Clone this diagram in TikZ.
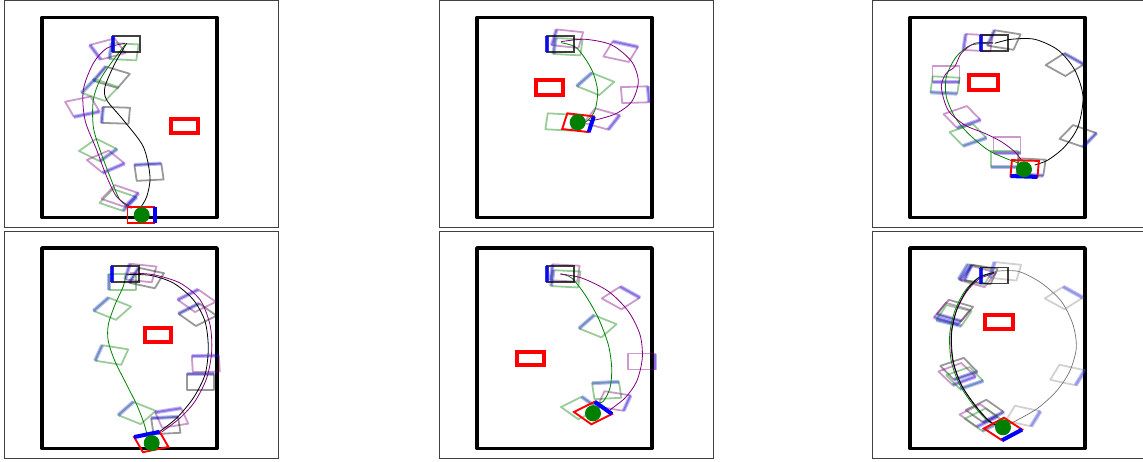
\documentclass[tikz,border=0pt]{standalone}
\usepackage{tikz}
\usetikzlibrary{calc}
\definecolor{trajgreen}{rgb}{0,0.5,0}
\definecolor{trajpurple}{rgb}{0.5,0,0.5}
\newcommand{\robotpose}[4]{%
  \begin{scope}[shift={(#2,#3)},xscale=13.5,yscale=8]
    \draw[#1,opacity=.4,line width=1.8pt,line join=round,rotate=-#4] (-1,-1) -- (1,-1) -- (1,1) -- (-1,1) -- cycle;
    \draw[blue,opacity=.28,line width=4pt,rotate=-#4] (1,-1) -- (1,1);
  \end{scope}}
\newcommand{\startpose}[3]{%
  \begin{scope}[shift={(#1,#2)},xscale=13.5,yscale=8]
    \draw[black,opacity=.75,line width=1.8pt,rotate=-#3] (-1,-1) -- (1,-1) -- (1,1) -- (-1,1) -- cycle;
    \draw[blue,opacity=.8,line width=4pt,rotate=-#3] (1,-1) -- (1,1);
  \end{scope}}
\newcommand{\goalpose}[3]{%
  \begin{scope}[shift={(#1,#2)},xscale=13.5,yscale=8]
    \draw[red,line width=1.9pt,rotate=-#3] (-1,-1) -- (1,-1) -- (1,1) -- (-1,1) -- cycle;
    \draw[blue,line width=4pt,rotate=-#3] (1,-1) -- (1,1);
  \end{scope}}

\begin{document}
\begin{tikzpicture}[x=1pt,y=-1pt,
    panelframe/.style={draw=black!75,line width=0.9pt},
    arena/.style={draw=black,line width=3.8pt,line join=round},
    obstacle/.style={draw=red,line width=3.8pt},
    greenpath/.style={trajgreen,line width=0.8pt},
    purplepath/.style={trajpurple,line width=0.8pt},
    blackpath/.style={black,line width=0.8pt},
    goaldot/.style={fill=trajgreen}]
\useasboundingbox (0,0) rectangle (1143,461);
\clip (0,0) rectangle (1143,461);

% top left
\begin{scope}[shift={(0,0)}]
    \draw[panelframe] (4,0.5) rectangle (278.5,227);
    \draw[arena] (42,17.5) rectangle (217,217.5);
    \draw[obstacle] (171.3,118.7) rectangle (198,133);
    \robotpose{trajpurple}{107.7}{49}{156}
    \robotpose{trajgreen}{124}{51.7}{185}
    \robotpose{black}{111.7}{77.3}{207}
    \robotpose{trajgreen}{100}{90}{210}
    \robotpose{trajpurple}{82.3}{106.7}{71}
    \robotpose{black}{115.8}{115.3}{183}
    \robotpose{trajgreen}{98}{150}{40}
    \robotpose{trajpurple}{105.7}{161.7}{54}
    \robotpose{black}{149}{172.2}{-95}
    \robotpose{trajgreen}{118}{200}{30}
    \robotpose{trajpurple}{120}{196}{30}
    \draw[blackpath] plot[smooth] coordinates {(126.7,43.3) (115,63.3) (105,86.7) (106.7,100) (123.3,120) (143.3,146.7) (150,176.7) (146.7,196.7) (140,208.3)};
    \draw[greenpath] plot[smooth] coordinates {(125,45) (113.3,60) (100,80) (93.3,100) (93.3,126.7) (100,150) (110,176.7) (120,200) (131.7,208.3)};
    \draw[purplepath] plot[smooth] coordinates {(125,43.3) (106.7,48.3) (93.3,63.3) (83.3,90) (85,120) (96.7,150) (106.7,176.7) (116.7,196.7) (130,206.7)};
    \startpose{126.7}{43.7}{180}
    \goalpose{141}{214.7}{0}
    \fill[goaldot] (141.7,215) circle (8);
\end{scope}

% top middle
\begin{scope}[shift={(435,0)}]
    \draw[panelframe] (4,0.5) rectangle (278.5,227);
    \draw[arena] (42,17.5) rectangle (217,217.5);
    \draw[obstacle] (101.3,80.3) rectangle (128,94.7);
    \robotpose{trajpurple}{132.5}{38.7}{190}
    \robotpose{trajgreen}{133}{46.7}{185}
    \robotpose{trajpurple}{185.7}{51.7}{-70}
    \robotpose{trajgreen}{160.5}{84}{214}
    \robotpose{trajpurple}{200}{94.7}{-3}
    \robotpose{trajpurple}{166.7}{119}{25}
    \robotpose{trajgreen}{125}{122}{5}
    \draw[greenpath] plot[smooth] coordinates {(126,42.7) (140,46.7) (150,58.3) (158.3,73.3) (162.7,91.7) (160,110) (153.3,120) (146.7,123.3)};
    \draw[purplepath] plot[smooth] coordinates {(126,41.7) (150,39.3) (176.7,45) (196.7,61.7) (203.3,81.7) (196.7,101.7) (181.7,113.3) (163.3,119.3) (153.3,120.7)};
    \startpose{125.8}{43.8}{180}
    \goalpose{143}{122.7}{11}
    \fill[goaldot] (142.7,122.3) circle (8);
\end{scope}

% top right
\begin{scope}[shift={(868,0)}]
    \draw[panelframe] (4,0.5) rectangle (278.5,227);
    \draw[arena] (42,17.5) rectangle (217,217.5);
    \draw[obstacle] (101.3,75.3) rectangle (130.3,89.7);
    \robotpose{trajpurple}{110}{42.7}{185}
    \robotpose{black}{136}{40}{195}
    \robotpose{black}{196.7}{64.7}{-47}
    \robotpose{trajpurple}{78}{74}{90}
    \robotpose{trajgreen}{77}{85}{95}
    \robotpose{trajpurple}{94}{117}{60}
    \robotpose{trajgreen}{100}{135}{60}
    \robotpose{black}{210}{136}{30}
    \robotpose{trajpurple}{139}{144.7}{90}
    \robotpose{trajgreen}{136.7}{159}{90}
    \robotpose{black}{163}{167}{95}
    \draw[blackpath] plot[smooth] coordinates {(126.7,43.3) (143.3,39.3) (166.7,39.3) (190,50) (206.7,70) (215,96.7) (210,126.7) (196.7,146.7) (180,160) (166.7,165)};
    \draw[greenpath] plot[smooth] coordinates {(125,43.3) (103.3,45) (88.3,56.7) (78.3,76.7) (78.3,96.7) (86.7,116.7) (100,133.3) (120,150) (140,159.3) (151.7,163.3)};
    \draw[purplepath] plot[smooth] coordinates {(125,42.7) (106.7,43.3) (93.3,53.3) (86.7,66.7) (78.3,73.3) (73.3,86.7) (80,110) (96.7,125) (116.7,133.3) (133.3,141.7) (146.7,151.7) (153.3,160)};
    \startpose{126.7}{43.3}{180}
    \goalpose{156.7}{168.5}{93}
    \fill[goaldot] (156,169.3) circle (8);
\end{scope}

% bottom left
\begin{scope}[shift={(0,230.5)}]
    \draw[panelframe] (4,0.5) rectangle (278.5,228);
    \draw[arena] (42,17.5) rectangle (217,218);
    \draw[obstacle] (144.7,97.2) rectangle (170.7,111.2);
    \robotpose{trajgreen}{122.5}{51.2}{180}
    \robotpose{trajpurple}{140.8}{42.5}{190}
    \robotpose{black}{146.7}{47.5}{200}
    \robotpose{trajgreen}{112.3}{78.2}{214}
    \robotpose{trajpurple}{196.7}{70.3}{230}
    \robotpose{black}{197.5}{84.2}{230}
    \robotpose{trajgreen}{111.7}{124.5}{195}
    \robotpose{trajpurple}{205.8}{133.3}{268}
    \robotpose{black}{200.8}{151.5}{270}
    \robotpose{trajgreen}{137}{182.5}{214}
    \robotpose{trajpurple}{171.7}{187.5}{255}
    \robotpose{black}{165.8}{195}{265}
    \draw[greenpath] plot[smooth] coordinates {(126,44.2) (123.3,55.8) (115,74.2) (108.3,94.2) (108.3,110.8) (115,130.8) (126.7,154.2) (136.7,174.2) (143.3,190.8) (146.7,202.5)};
    \draw[blackpath] plot[smooth] coordinates {(126.7,44.2) (150,44.8) (173.3,52.5) (193.3,69.2) (205,90.8) (208.3,117.5) (205,144.2) (193.3,167.5) (176.7,187.5) (160,200.8)};
    \draw[purplepath] plot[smooth] coordinates {(130,42.5) (153.3,44.2) (180,52.5) (200,69.2) (210,94.2) (211.7,120.8) (206.7,147.5) (195,170.8) (180,187.5) (161.7,201.5)};
    \startpose{125.8}{43.7}{180}
    \goalpose{151.3}{211.5}{251}
    \fill[goaldot] (151.7,212.5) circle (8);
\end{scope}

% bottom middle
\begin{scope}[shift={(435,230.5)}]
    \draw[panelframe] (4,0.5) rectangle (278.5,228);
    \draw[arena] (42,17.5) rectangle (217,218);
    \draw[obstacle] (82,121.2) rectangle (108.7,134.8);
    \robotpose{trajpurple}{130}{42.5}{185}
    \robotpose{trajgreen}{130.8}{48.3}{185}
    \robotpose{trajpurple}{185.8}{67.5}{-47}
    \robotpose{trajgreen}{162.8}{95.8}{214}
    \robotpose{trajpurple}{206.7}{131}{0}
    \robotpose{trajgreen}{171.7}{160}{265}
    \robotpose{trajpurple}{179}{170.5}{15}
    \robotpose{trajgreen}{145}{177.5}{-40}
    \draw[greenpath] plot[smooth] coordinates {(126,43.5) (136.7,47.5) (150,64.2) (163.3,87.5) (173.3,114.2) (176.7,137.5) (175,157.5) (168.3,170.8) (161.7,172.5)};
    \draw[purplepath] plot[smooth] coordinates {(125,43.5) (146.7,47.5) (173.3,60.8) (193.3,80.8) (205,104.2) (207.3,127.5) (201.7,150.8) (190,167.5) (175,179.2)};
    \startpose{125.8}{43.3}{180}
    \goalpose{158}{182.5}{-40}
    \fill[goaldot] (158,182.8) circle (8);
\end{scope}

% bottom right
\begin{scope}[shift={(868,230.5)}]
    \draw[panelframe] (4,0.5) rectangle (278.5,228);
    \draw[arena] (42,17.5) rectangle (217,218);
    \draw[obstacle] (117,84.5) rectangle (144.7,98.8);
    \robotpose{trajgreen}{108}{44}{200}
    \robotpose{trajpurple}{110}{46}{205}
    \robotpose{black}{113}{44}{195}
    \robotpose{black!45}{137.5}{40.8}{190}
    \robotpose{black}{87}{80}{116}
    \robotpose{trajpurple}{84}{83}{116}
    \robotpose{trajgreen}{86}{85}{112}
    \robotpose{black!45}{195.8}{67.5}{-47}
    \robotpose{black}{90.8}{138.3}{60}
    \robotpose{trajpurple}{89}{143.5}{58}
    \robotpose{trajgreen}{96.7}{147.5}{60}
    \robotpose{black!45}{199.5}{144.5}{20}
    \robotpose{black}{116.7}{180.5}{50}
    \robotpose{trajpurple}{110.5}{185}{50}
    \robotpose{trajgreen}{115.8}{189.2}{50}
    \robotpose{black!45}{155}{185.5}{20}
    \draw[black!55,line width=0.7pt] plot[smooth] coordinates {(126.7,40.8) (150,40.8) (173.3,52.5) (193.3,70.8) (205,94.2) (208.3,117.5) (201.7,140.8) (188.3,160.8) (170,177.5) (150,189.2) (140,194.2)};
    \draw[greenpath] plot[smooth] coordinates {(126,42.5) (110,47.5) (96.7,60.8) (86.7,80.8) (81.7,104.2) (83.3,130.8) (91.7,154.2) (105,174.2) (118.3,189.2) (126.7,194.2)};
    \draw[purplepath] plot[smooth] coordinates {(126,43) (111,48.5) (98,62) (88,81.5) (83,104.2) (84.8,130.8) (93,154) (106.5,174) (119.5,189) (127.5,194.2)};
    \draw[blackpath] plot[smooth] coordinates {(126,42) (111.5,46.5) (98.5,60) (88.5,80) (83.5,104) (85.3,131) (93.5,154.5) (107,174.8) (120,189.5) (128,194.5)};
    \startpose{126.7}{45}{180}
    \goalpose{135}{198.5}{48}
    \fill[goaldot] (135,196.8) circle (8);
\end{scope}
\end{tikzpicture}
\end{document}
